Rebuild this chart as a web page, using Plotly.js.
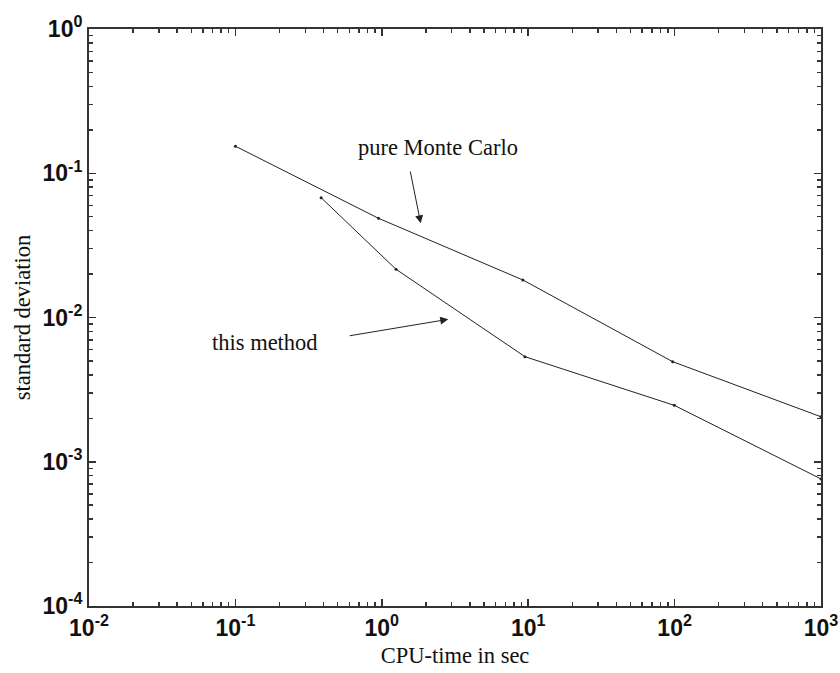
<!DOCTYPE html>
<html>
<head>
<meta charset="utf-8">
<script src="https://cdn.plot.ly/plotly-3.0.1.min.js"></script>
<style>
  html, body { margin: 0; padding: 0; background: #fff; }
  #chart { width: 840px; height: 673px; }
</style>
</head>
<body>
<div id="chart"></div>
<script>
// CPU time (s) vs. standard deviation of the estimate
const mcTime = [0.1, 0.95, 9.2, 97, 1000];
const mcStd  = [0.154, 0.0487, 0.0182, 0.00494, 0.00205];

const methodTime = [0.385, 1.25, 9.5, 99.6, 1000];
const methodStd  = [0.0677, 0.0216, 0.00535, 0.00246, 0.00076];

const xTickVals = [0.01, 0.1, 1, 10, 100, 1000];
const xTickText = ['10<sup>-2</sup>', '10<sup>-1</sup>', '10<sup>0</sup>', '10<sup>1</sup>', '10<sup>2</sup>', '10<sup>3</sup>'];
const yTickVals = [0.0001, 0.001, 0.01, 0.1, 1];
const yTickText = ['10<sup>-4</sup>', '10<sup>-3</sup>', '10<sup>-2</sup>', '10<sup>-1</sup>', '10<sup>0</sup>'];

// minor ticks at 2..9 within each decade
function minorTicks(lo, hi) {
  const out = [];
  for (let e = lo; e < hi; e++) {
    for (let m = 2; m <= 9; m++) out.push(m * Math.pow(10, e));
  }
  return out;
}

const lineStyle = { color: '#222', width: 1 };
const markerStyle = { color: '#222', size: 3 };

const traces = [
  { x: mcTime, y: mcStd, type: 'scatter', mode: 'lines+markers',
    line: lineStyle, marker: markerStyle, name: 'pure Monte Carlo' },
  { x: methodTime, y: methodStd, type: 'scatter', mode: 'lines+markers',
    line: lineStyle, marker: markerStyle, name: 'this method' }
];

const tickFont = { family: 'Liberation Sans, Arial, sans-serif', size: 23, color: '#111', weight: 'bold' };
const serif = 'Liberation Serif, Times New Roman, serif';
const textSize = 22.5;

const axisCommon = {
  type: 'log',
  showgrid: false,
  zeroline: false,
  showline: true,
  linecolor: '#333',
  linewidth: 2,
  mirror: 'allticks',
  ticks: 'inside',
  ticklen: 7,
  tickwidth: 1.5,
  tickcolor: '#333',
  tickmode: 'array',
  tickfont: tickFont
};

const layout = {
  width: 840,
  height: 673,
  margin: { l: 89, r: 19, t: 29, b: 67 },
  paper_bgcolor: '#fff',
  plot_bgcolor: '#fff',
  showlegend: false,
  xaxis: Object.assign({}, axisCommon, {
    range: [-2, 3],
    tickvals: xTickVals,
    ticktext: xTickText,
    minor: { ticks: 'inside', ticklen: 4, tickwidth: 1.5, tickcolor: '#333',
             tickmode: 'array', tickvals: minorTicks(-2, 3) },
    title: { text: 'CPU-time in sec', font: { family: serif, size: textSize, color: '#111' }, standoff: 8 }
  }),
  yaxis: Object.assign({}, axisCommon, {
    range: [-4, 0],
    tickvals: yTickVals,
    ticktext: yTickText,
    minor: { ticks: 'inside', ticklen: 4, tickwidth: 1.5, tickcolor: '#333',
             tickmode: 'array', tickvals: minorTicks(-4, 0) },
    title: { text: 'standard deviation', font: { family: serif, size: textSize, color: '#111' }, standoff: 6 }
  }),
  annotations: [
    { x: 0.384, y: -0.818, xref: 'x', yref: 'y', text: 'pure Monte Carlo',
      showarrow: false, font: { family: serif, size: textSize, color: '#111' } },
    { x: -0.798, y: -2.175, xref: 'x', yref: 'y', text: 'this method',
      showarrow: false, font: { family: serif, size: textSize, color: '#111' } },
    { x: 0.2657, y: -1.347, xref: 'x', yref: 'y', text: '', showarrow: true,
      ax: -10.7, ay: -53.3, axref: 'pixel', ayref: 'pixel',
      arrowhead: 2, arrowsize: 1.6, arrowwidth: 1, arrowcolor: '#222' },
    { x: 0.454, y: -2.0125, xref: 'x', yref: 'y', text: '', showarrow: true,
      ax: -100, ay: 16.7, axref: 'pixel', ayref: 'pixel',
      arrowhead: 2, arrowsize: 1.6, arrowwidth: 1, arrowcolor: '#222' }
  ]
};

Plotly.newPlot('chart', traces, layout, { displayModeBar: false, staticPlot: true });
</script>
</body>
</html>
